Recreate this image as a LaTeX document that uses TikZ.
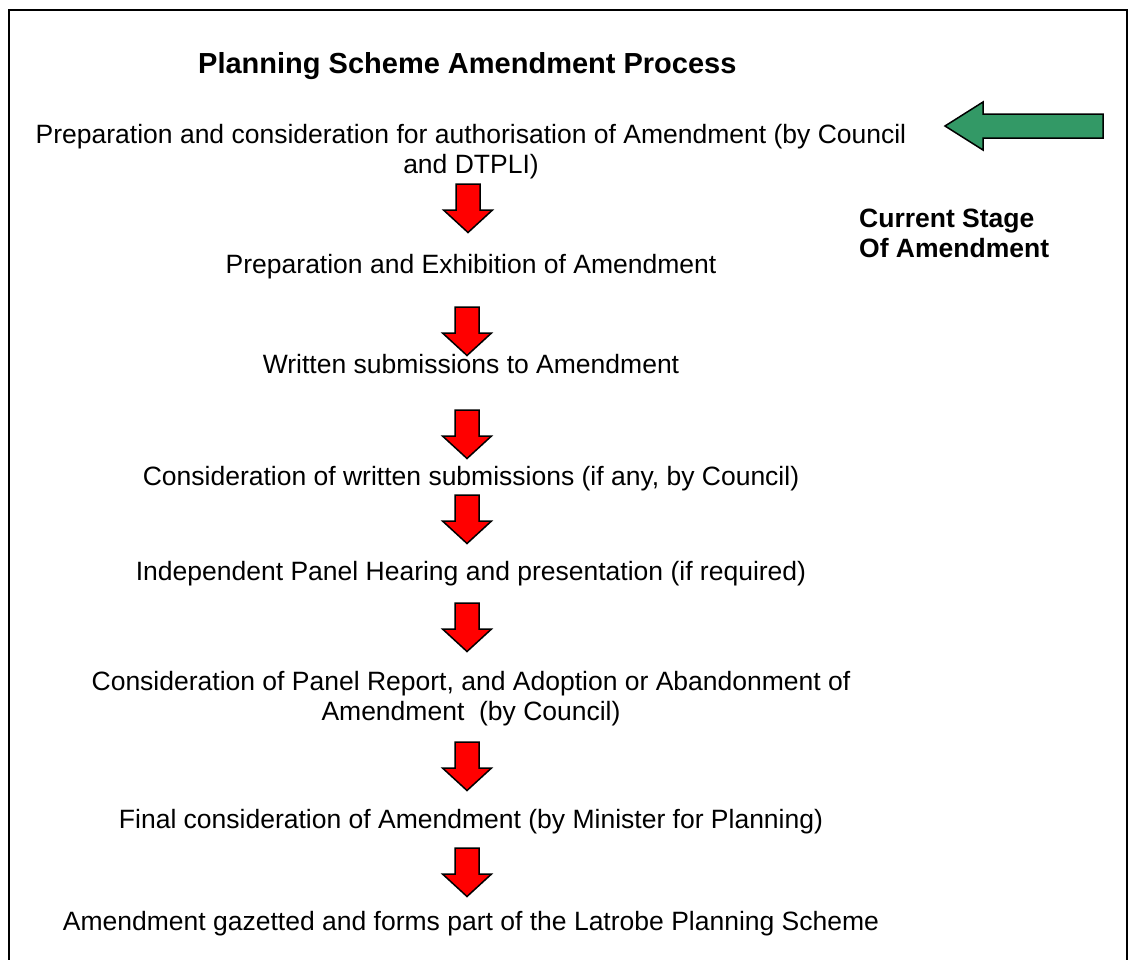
\documentclass[tikz,border=0pt]{standalone}
\usepackage{fontspec}
\setmainfont{Liberation Sans}
\definecolor{arrowgreen}{RGB}{51,153,102}
\begin{document}
\begin{tikzpicture}[x=1pt,y=-1pt,
  body/.style={font=\fontsize{26.5}{30.5}\selectfont, inner sep=0pt, anchor=base},
  ttl/.style={font=\bfseries\fontsize{29}{33}\selectfont, inner sep=0pt, anchor=base west},
  side/.style={font=\bfseries\fontsize{26.5}{30.5}\selectfont, inner sep=0pt, anchor=base west},
  redblock/.style={fill=red, draw=black, line width=1.5pt, line join=miter},
  greenblock/.style={fill=arrowgreen, draw=black, line width=1.5pt, line join=miter},
  frame/.style={draw=black, line width=2pt},
  pics/downblock/.style={code={
    \draw[redblock] (-12,0) -- (12,0) -- (12,26) -- (24.5,26) -- (0,48.5)
      -- (-24.5,26) -- (-12,26) -- cycle;}}]
\useasboundingbox (0,0) rectangle (1129,959);
\draw[frame] (9,962) -- (9,10) -- (1127,10) -- (1127,962);

\node[ttl] (title) at (198,73) {Planning Scheme Amendment Process};

\node[body] (s1a) at (471,143) {Preparation and consideration for authorisation of Amendment (by Council};
\node[body] (s1b) at (471,173) {and DTPLI)};
\node[body] (s2) at (471,273) {Preparation and Exhibition of Amendment};
\node[body] (s3) at (471,373) {Written submissions to Amendment};
\node[body] (s4) at (471,485) {Consideration of written submissions (if any, by Council)};
\node[body] (s5) at (471,580) {Independent Panel Hearing and presentation (if required)};
\node[body] (s6a) at (471,690) {Consideration of Panel Report, and Adoption or Abandonment of};
\node[body] (s6b) at (471,720) {Amendment\ \ (by Council)};
\node[body] (s7) at (471,828) {Final consideration of Amendment (by Minister for Planning)};
\node[body] (s8) at (471,930) {Amendment gazetted and forms part of the Latrobe Planning Scheme};

\pic (a1) at (468,184) {downblock};
\pic (a2) at (467,307) {downblock};
\pic (a3) at (467,410) {downblock};
\pic (a4) at (467,495) {downblock};
\pic (a5) at (467,603) {downblock};
\pic (a6) at (467,742) {downblock};
\pic (a7) at (467,848) {downblock};

\coordinate (gtip) at (945,126);
\draw[greenblock] (gtip) -- (983,102) -- (983,114) -- (1103,114) -- (1103,138)
  -- (983,138) -- (983,150) -- cycle;

\node[side] (cur1) at (859,227) {Current Stage};
\node[side] (cur2) at (859,257) {Of Amendment};
\end{tikzpicture}
\end{document}
